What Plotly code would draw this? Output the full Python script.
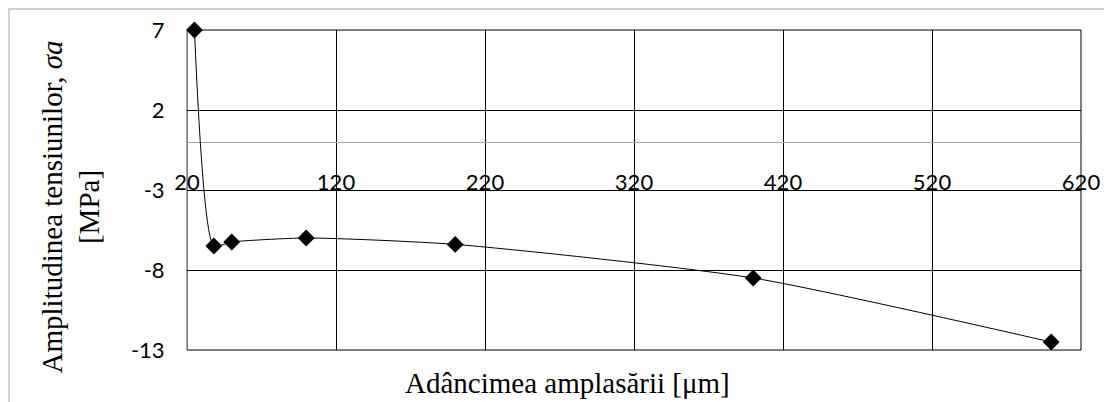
import plotly.graph_objects as go

# Adâncimea amplasării [µm] și amplitudinea tensiunilor [MPa]
adancime = [25, 38, 50, 100, 200, 400, 600]
amplitudine = [7.0, -6.5, -6.25, -6.0, -6.4, -8.5, -12.5]

x_ticks = [20, 120, 220, 320, 420, 520, 620]
y_ticks = [-13, -8, -3, 2, 7]

SERIF = "Liberation Serif"
SANS = "Lato"

fig = go.Figure()

fig.add_trace(go.Scatter(
    x=adancime,
    y=amplitudine,
    mode="lines+markers",
    line=dict(color="black", width=1, shape="spline", smoothing=0.6),
    marker=dict(symbol="diamond", size=13, color="black"),
    cliponaxis=False,
    showlegend=False,
))

fig.update_layout(
    width=1104,
    height=394,
    margin=dict(l=179, r=31, t=22, b=52),
    paper_bgcolor="white",
    plot_bgcolor="white",
    # etichetele axei x stau deasupra liniei y = -3, ca în Excel
    xaxis=dict(
        range=[20, 620],
        tickvals=x_ticks,
        ticktext=[str(v) for v in x_ticks],
        anchor="free",
        position=0.478,
        side="bottom",
        ticklabelposition="inside",
        ticklabeloverflow="allow",
        ticks="",
        showgrid=True,
        gridcolor="black",
        gridwidth=1,
        zeroline=False,
        showline=False,
        automargin=False,
        tickfont=dict(family=SANS, size=22, color="black"),
    ),
    yaxis=dict(
        range=[-13, 7],
        tickvals=y_ticks,
        ticktext=[str(v) for v in y_ticks],
        ticks="",
        ticklabelstandoff=17,
        showgrid=True,
        gridcolor="black",
        gridwidth=1,
        zeroline=True,
        zerolinecolor="#a6a6a6",
        zerolinewidth=1,
        showline=True,
        linecolor="#a6a6a6",
        linewidth=1,
        automargin=False,
        tickfont=dict(family=SANS, size=22, color="black"),
    ),
    annotations=[
        dict(
            text="Adâncimea amplasării [μm]",
            xref="paper", yref="paper",
            x=0.426, y=-0.103,
            xanchor="center", yanchor="middle",
            showarrow=False,
            font=dict(family=SERIF, size=29, color="black"),
        ),
        dict(
            text="Amplitudinea tensiunilor, <i>σa</i><br>[MPa]",
            xref="paper", yref="paper",
            x=-0.1303, y=0.447,
            xanchor="center", yanchor="middle",
            textangle=-90,
            showarrow=False,
            font=dict(family=SERIF, size=29, color="black"),
        ),
    ],
    shapes=[
        # chenarul graficului
        dict(
            type="rect", xref="paper", yref="paper",
            x0=-0.1991, x1=1.2, y0=-0.4, y1=1.0656,
            line=dict(color="#d0d0d0", width=2),
            layer="below",
        ),
        # marginile zonei de desen
        dict(
            type="rect", xref="paper", yref="paper",
            x0=0, x1=1, y0=0, y1=1,
            line=dict(color="black", width=1),
            layer="below",
        ),
    ],
)

fig.write_html("out.html")
